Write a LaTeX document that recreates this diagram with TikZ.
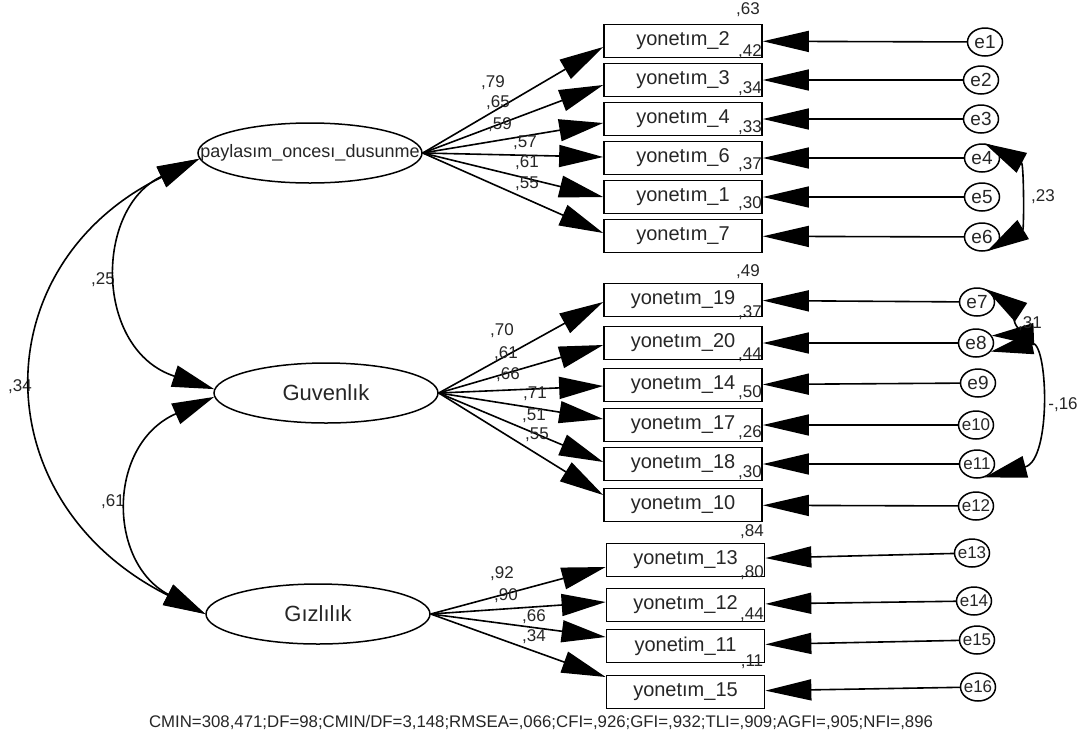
\documentclass[tikz,border=0pt]{standalone}
\usepackage{fontspec}
\setmainfont{Liberation Sans}
\usetikzlibrary{shapes.geometric,arrows.meta}
\begin{document}
\begin{tikzpicture}[x=1pt,y=-1pt,
  lat/.style={ellipse,draw,line width=1.5pt,minimum width=224pt,minimum height=60pt,inner sep=0pt,text=black!85,font=\fontsize{22}{24}\selectfont},
  obs/.style={rectangle,draw,line width=1.7pt,minimum width=158pt,minimum height=33pt,inner sep=0pt,text=black!85,font=\fontsize{20}{22}\selectfont},
  err/.style={ellipse,draw,line width=1.5pt,minimum width=35pt,minimum height=28pt,inner sep=0pt,text=black!85,font=\fontsize{19}{21}\selectfont},
  errb/.style={err,font=\fontsize{17}{19}\selectfont},
  num/.style={inner sep=0pt,text=black!85,font=\fontsize{17}{19}\selectfont},
  load/.style={line width=1.6pt,-{Triangle[length=44pt,width=22pt]}},
  errarr/.style={line width=1.6pt,-{Triangle[length=46pt,width=21pt]}},
  covarr/.style={line width=1.6pt,{Triangle[length=42pt,width=22pt]}-{Triangle[length=42pt,width=22pt]}}
]
\useasboundingbox (0,0) rectangle (1084,740);
\fill[white] (0,0) rectangle (1084,740);

% latent variables
\node[lat] (pay) at (310,153) {\fontsize{18}{20}\selectfont\makebox[0pt][c]{paylasım\_oncesı\_dusunme}};
\node[lat] (gu) at (326,393) {\makebox[0pt][c]{Guvenlık}};
\node[lat] (giz) at (318,614) {\makebox[0pt][c]{Gızlılık}};

% observed variables
\node[obs] (b2) at (683,41) {yonetım\_2};
\node[obs] (b3) at (683,80) {yonetım\_3};
\node[obs] (b4) at (683,119) {yonetım\_4};
\node[obs] (b6) at (683,158) {yonetım\_6};
\node[obs] (b1) at (683,197) {yonetım\_1};
\node[obs] (b7) at (683,236) {yonetım\_7};
\node[obs] (b19) at (683,300) {yonetım\_19};
\node[obs] (b20) at (683,343) {yonetım\_20};
\node[obs] (b14) at (683,385) {yonetım\_14};
\node[obs] (b17) at (683,425) {yonetım\_17};
\node[obs] (b18) at (683,464) {yonetım\_18};
\node[obs] (b10) at (683,505) {yonetım\_10};
\node[obs] (b13) at (685.5,560) {yonetım\_13};
\node[obs] (b12) at (685.5,605) {yonetım\_12};
\node[obs] (b11) at (685.5,646) {yonetim\_11};
\node[obs] (b15) at (685.5,692) {yonetım\_15};

% error terms
\node[err] (e1) at (985,42) {\makebox[0pt][c]{e1}};
\node[err] (e2) at (981,80) {\makebox[0pt][c]{e2}};
\node[err] (e3) at (981,119) {\makebox[0pt][c]{e3}};
\node[err] (e4) at (982,158) {\makebox[0pt][c]{e4}};
\node[err] (e5) at (982,197) {\makebox[0pt][c]{e5}};
\node[err] (e6) at (982,237) {\makebox[0pt][c]{e6}};
\node[err] (e7) at (977,302) {\makebox[0pt][c]{e7}};
\node[err] (e8) at (976,343) {\makebox[0pt][c]{e8}};
\node[err] (e9) at (978,383) {\makebox[0pt][c]{e9}};
\node[errb] (e10) at (976,425) {\makebox[0pt][c]{e10}};
\node[errb] (e11) at (977,464) {\makebox[0pt][c]{e11}};
\node[errb] (e12) at (976,506) {\makebox[0pt][c]{e12}};
\node[errb] (e13) at (972,553) {\makebox[0pt][c]{e13}};
\node[errb] (e14) at (974,601) {\makebox[0pt][c]{e14}};
\node[errb] (e15) at (977,640) {\makebox[0pt][c]{e15}};
\node[errb] (e16) at (978,687) {\makebox[0pt][c]{e16}};

% loadings
\draw[load] (pay.east) -- ([yshift=-6pt]b2.west);
\draw[load] (pay.east) -- ([yshift=-5pt]b3.west);
\draw[load] (pay.east) -- ([yshift=-4pt]b4.west);
\draw[load] (pay.east) -- ([yshift=1pt]b6.west);
\draw[load] (pay.east) -- (b1.west);
\draw[load] (pay.east) -- ([yshift=3pt]b7.west);
\draw[load] (gu.east) -- ([yshift=-2pt]b19.west);
\draw[load] (gu.east) -- ([yshift=-2pt]b20.west);
\draw[load] (gu.east) -- ([yshift=-1pt]b14.west);
\draw[load] (gu.east) -- ([yshift=6pt]b17.west);
\draw[load] (gu.east) -- ([yshift=2pt]b18.west);
\draw[load] (gu.east) -- ([yshift=10pt]b10.west);
\draw[load] (giz.east) -- ([yshift=-7pt]b13.west);
\draw[load] (giz.east) -- ([yshift=3pt]b12.west);
\draw[load] (giz.east) -- ([yshift=9pt]b11.west);
\draw[load] (giz.east) -- ([yshift=15pt]b15.west);

% loading labels
\node[num] (l79) at (493,83) {,79};
\node[num] (l65) at (498,103) {,65};
\node[num] (l59) at (500,125) {,59};
\node[num] (l57) at (525,143) {,57};
\node[num] (l61a) at (527,163) {,61};
\node[num] (l55a) at (527,184) {,55};
\node[num] (l70) at (502,331) {,70};
\node[num] (l61b) at (506,354) {,61};
\node[num] (l66a) at (508,375) {,66};
\node[num] (l71) at (535,394) {,71};
\node[num] (l51) at (534,416) {,51};
\node[num] (l55b) at (537,435) {,55};
\node[num] (l92) at (502,574) {,92};
\node[num] (l90) at (506,596) {,90};
\node[num] (l66b) at (534,617) {,66};
\node[num] (l34b) at (534,637) {,34};

% squared multiple correlations
\node[num] (r2) at (748,10) {,63};
\node[num] (r3) at (750,52) {,42};
\node[num] (r4) at (750,89) {,34};
\node[num] (r6) at (750,128) {,33};
\node[num] (r1) at (750,165) {,37};
\node[num] (r7) at (750,204) {,30};
\node[num] (r19) at (748,272) {,49};
\node[num] (r20) at (750,313) {,37};
\node[num] (r14) at (750,355) {,44};
\node[num] (r17) at (750,393) {,50};
\node[num] (r18) at (750,433) {,26};
\node[num] (r10) at (750,473) {,30};
\node[num] (r13) at (752,532) {,84};
\node[num] (r12) at (752,573) {,80};
\node[num] (r11) at (752,615) {,44};
\node[num] (r15) at (752,662) {,11};

% error arrows
\foreach \e/\b in {e1/b2,e2/b3,e3/b4,e4/b6,e5/b1,e6/b7,e7/b19,e8/b20,e9/b14,e10/b17,e11/b18,e12/b10,e13/b13,e14/b12,e15/b11,e16/b15}
  \draw[errarr] (\e) -- (\b);

% covariance labels
\node[num] (c25) at (103,280) {,25};
\node[num] (c34) at (20,387) {,34};
\node[num] (c61) at (113,502) {,61};
\node[num] (c23) at (1043,197) {,23};
\node[num] (c16) at (1063,405) {-,16};

% covariances between latents
\draw[covarr] (pay.183) .. controls (-18,265) and (-18,502) .. (giz.west);
\draw[covarr] (pay.183) .. controls (94,208) and (94,350) .. (gu.178);
\draw[covarr] (gu.182) .. controls (107,444) and (107,562) .. (giz.west);

% covariances between errors
\draw[covarr] (e4.80) .. controls (1024,164) and (1024,229) .. (e6.-70);
\draw[covarr] (e7.55) .. controls (1010,305) and (1010,335) .. (e8.25);
\draw[covarr] (e8.-30) .. controls (1048,340) and (1052,460) .. (e11.-60);
\node[num] (c31) at (1030,324) {,31};

% fit indices
\node[inner sep=0pt,text=black!85,font=\fontsize{16.8}{19}\selectfont] (fit) at (541,722) {CMIN=308,471;DF=98;CMIN/DF=3,148;RMSEA=,066;CFI=,926;GFI=,932;TLI=,909;AGFI=,905;NFI=,896};
\end{tikzpicture}
\end{document}
